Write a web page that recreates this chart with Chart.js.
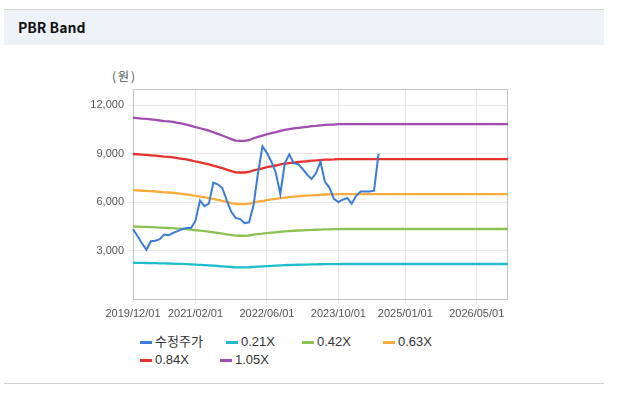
<!DOCTYPE html>
<html>
<head>
<meta charset="utf-8">
<script src="https://cdn.jsdelivr.net/npm/chart.js@4"></script>
<style>
  html, body { margin: 0; padding: 0; background: #ffffff; }
  body { width: 619px; height: 394px; position: relative; overflow: hidden; font-family: "Liberation Sans", "Noto Sans CJK KR", sans-serif; }
  #topline { position: absolute; left: 4px; top: 9px; width: 600px; height: 1px; background: #d6d6d6; }
  #header { position: absolute; left: 4px; top: 10px; width: 600px; height: 35px; background: #eef1f6; }
  #header span { position: absolute; left: 14px; top: 9px; font-family: "Noto Sans CJK KR", "Liberation Sans", sans-serif; font-weight: bold; font-size: 14px; color: #111; line-height: 17px; }
  #bottomline { position: absolute; left: 4px; top: 383px; width: 600px; height: 1px; background: #d0d0d0; }
  #unit { position: absolute; left: 112px; top: 68px; font-family: "Noto Sans CJK KR", sans-serif; font-size: 12px; color: #555; letter-spacing: 2px; line-height: 16px; }
  #wrap { position: absolute; left: 0; top: 51px; width: 619px; height: 280px; }
  .lg { position: absolute; height: 16px; line-height: 16px; font-size: 13px; color: #333; white-space: nowrap; font-family: "Liberation Sans", "Noto Sans CJK KR", sans-serif; }
  .lg i { position: absolute; left: 0; top: 7px; width: 12px; height: 3px; }
  .lg b { position: absolute; left: 15px; top: 0; font-weight: normal; }
</style>
</head>
<body>
<div id="topline"></div>
<div id="header"><span>PBR Band</span></div>
<div id="unit">(원)</div>
<div id="wrap"><canvas id="c"></canvas></div>
<div id="legend"></div>
<div id="bottomline"></div>
<script>
// ---- data (monthly, index 0 = 2019/12, index 84 = 2026/12) ----
const startYear = 2019, startMonth = 12, monthCount = 85;
const xTickLabels = ['2019/12/01', '2021/02/01', '2022/06/01', '2023/10/01', '2025/01/01', '2026/05/01'];
const yTickValues = [3000, 6000, 9000, 12000];

const seriesNames = ['수정주가', '0.21X', '0.42X', '0.63X', '0.84X', '1.05X'];

const price = [4330, 3900, 3450, 3050, 3580, 3600, 3700, 3990, 3950, 4090,
  4200, 4330, 4390, 4390, 4850, 6100, 5750, 5900, 7200, 7100,
  6870, 6100, 5400, 5020, 4950, 4700, 4750, 5800, 7800, 9450,
  9050, 8500, 7800, 6500, 8400, 8950, 8400, 8350, 8050, 7700,
  7430, 7800, 8500, 7250, 6900, 6200, 6000, 6150, 6250, 5900,
  6400, 6650, 6650, 6650, 6700, 9000];

const band021 = [2244, 2240, 2234, 2230, 2224, 2218, 2210, 2202, 2198, 2192,
  2180, 2170, 2160, 2144, 2128, 2114, 2100, 2084, 2064, 2044,
  2024, 2002, 1980, 1960, 1958, 1958, 1966, 1990, 2008, 2022,
  2040, 2054, 2066, 2082, 2094, 2104, 2112, 2120, 2126, 2132,
  2140, 2144, 2150, 2156, 2158, 2160, 2164,
  2166, 2166, 2166, 2166, 2166, 2166, 2166, 2166, 2166, 2166,
  2166, 2166, 2166, 2166, 2166, 2166, 2166, 2166, 2166, 2166,
  2166, 2166, 2166, 2166, 2166, 2166, 2166, 2166, 2166, 2166,
  2166, 2166, 2166, 2166, 2166, 2166, 2166, 2166];

const band042 = [4488, 4480, 4468, 4460, 4448, 4436, 4420, 4404, 4396, 4384,
  4360, 4340, 4320, 4288, 4256, 4228, 4200, 4168, 4128, 4088,
  4048, 4004, 3960, 3920, 3916, 3916, 3932, 3980, 4016, 4044,
  4080, 4108, 4132, 4164, 4188, 4208, 4224, 4240, 4252, 4264,
  4280, 4288, 4300, 4312, 4316, 4320, 4328,
  4332, 4332, 4332, 4332, 4332, 4332, 4332, 4332, 4332, 4332,
  4332, 4332, 4332, 4332, 4332, 4332, 4332, 4332, 4332, 4332,
  4332, 4332, 4332, 4332, 4332, 4332, 4332, 4332, 4332, 4332,
  4332, 4332, 4332, 4332, 4332, 4332, 4332, 4332];

const band063 = [6732, 6720, 6702, 6690, 6672, 6654, 6630, 6606, 6594, 6576,
  6540, 6510, 6480, 6432, 6384, 6342, 6300, 6252, 6192, 6132,
  6072, 6006, 5940, 5880, 5874, 5874, 5898, 5970, 6024, 6066,
  6120, 6162, 6198, 6246, 6282, 6312, 6336, 6360, 6378, 6396,
  6420, 6432, 6450, 6468, 6474, 6480, 6492,
  6498, 6498, 6498, 6498, 6498, 6498, 6498, 6498, 6498, 6498,
  6498, 6498, 6498, 6498, 6498, 6498, 6498, 6498, 6498, 6498,
  6498, 6498, 6498, 6498, 6498, 6498, 6498, 6498, 6498, 6498,
  6498, 6498, 6498, 6498, 6498, 6498, 6498, 6498];

const band084 = [8976, 8960, 8936, 8920, 8896, 8872, 8840, 8808, 8792, 8768,
  8720, 8680, 8640, 8576, 8512, 8456, 8400, 8336, 8256, 8176,
  8096, 8008, 7920, 7840, 7832, 7832, 7864, 7960, 8032, 8088,
  8160, 8216, 8264, 8328, 8376, 8416, 8448, 8480, 8504, 8528,
  8560, 8576, 8600, 8624, 8632, 8640, 8656,
  8664, 8664, 8664, 8664, 8664, 8664, 8664, 8664, 8664, 8664,
  8664, 8664, 8664, 8664, 8664, 8664, 8664, 8664, 8664, 8664,
  8664, 8664, 8664, 8664, 8664, 8664, 8664, 8664, 8664, 8664,
  8664, 8664, 8664, 8664, 8664, 8664, 8664, 8664];

const band105 = [11220, 11200, 11170, 11150, 11120, 11090, 11050, 11010, 10990, 10960,
  10900, 10850, 10800, 10720, 10640, 10570, 10500, 10420, 10320, 10220,
  10120, 10010, 9900, 9800, 9790, 9790, 9830, 9950, 10040, 10110,
  10200, 10270, 10330, 10410, 10470, 10520, 10560, 10600, 10630, 10660,
  10700, 10720, 10750, 10780, 10790, 10800, 10820,
  10830, 10830, 10830, 10830, 10830, 10830, 10830, 10830, 10830, 10830,
  10830, 10830, 10830, 10830, 10830, 10830, 10830, 10830, 10830, 10830,
  10830, 10830, 10830, 10830, 10830, 10830, 10830, 10830, 10830, 10830,
  10830, 10830, 10830, 10830, 10830, 10830, 10830, 10830];

// ---- styles ----
const seriesColors = ['#3a7cdb', '#1fbdcc', '#8dc153', '#fbab3c', '#e8322c', '#a04cb1'];
const seriesWidths = [2, 2.3, 2.3, 2.3, 2.3, 2.3];
const legendLayout = [[140, 334], [226, 334], [302, 334], [383, 334], [140, 352], [220, 352]];

// category labels (months)
const months = [];
for (let i = 0; i < monthCount; i++) {
  const t = (startMonth - 1) + i;
  const y = startYear + Math.floor(t / 12);
  const m = (t % 12) + 1;
  months.push(y + '/' + String(m).padStart(2, '0'));
}

const seriesData = [price, band021, band042, band063, band084, band105];
const datasets = seriesNames.map((name, i) => ({
  label: name,
  data: seriesData[i],
  borderColor: seriesColors[i],
  backgroundColor: seriesColors[i],
  borderWidth: seriesWidths[i],
  pointRadius: 0,
  tension: 0,
  fill: false,
  spanGaps: false
}));

const framePlugin = {
  id: 'frame',
  beforeDatasetsDraw(chart) {
    const a = chart.chartArea, ctx = chart.ctx;
    ctx.save();
    ctx.strokeStyle = '#c4c4c4';
    ctx.lineWidth = 1;
    ctx.strokeRect(Math.round(a.left) + 0.5, Math.round(a.top) + 0.5, Math.round(a.right - a.left) - 1, Math.round(a.bottom - a.top));
    ctx.restore();
  }
};

const chart = new Chart(document.getElementById('c'), {
  type: 'line',
  data: { labels: months, datasets },
  plugins: [framePlugin],
  options: {
    responsive: true,
    maintainAspectRatio: false,
    animation: false,
    layout: { padding: { left: 0, right: 111, top: 38, bottom: 0 } },
    plugins: { legend: { display: false }, tooltip: { enabled: false } },
    scales: {
      x: {
        type: 'category',
        offset: false,
        afterBuildTicks(scale) {
          scale.ticks = months
            .map((m, i) => ({ value: i, label: m + '/01' }))
            .filter(t => xTickLabels.includes(t.label));
        },
        afterFit(scale) { scale.height = 32; },
        grid: { color: '#e8e8e8', lineWidth: 1, tickLength: 5, drawTicks: true },
        border: { display: false },
        ticks: {
          autoSkip: false, maxRotation: 0, minRotation: 0, padding: 3,
          color: '#555', font: { family: 'Liberation Sans', size: 11 },
          callback(v) { return this.getLabelForValue(v) + '/01'; }
        }
      },
      y: {
        min: 0,
        max: 13000,
        afterBuildTicks(scale) { scale.ticks = yTickValues.map(v => ({ value: v })); },
        afterFit(scale) { scale.width = 133; },
        grid: { color: '#e8e8e8', lineWidth: 1, tickLength: 5, drawTicks: true },
        border: { display: false },
        ticks: {
          padding: 4, color: '#555', font: { family: 'Liberation Sans', size: 11 },
          callback(v) { return Number(v).toLocaleString('en-US'); }
        }
      }
    }
  }
});

// HTML legend built from chart datasets
const lg = document.getElementById('legend');
chart.data.datasets.forEach((ds, i) => {
  const d = document.createElement('div');
  d.className = 'lg';
  d.style.left = legendLayout[i][0] + 'px';
  d.style.top = legendLayout[i][1] + 'px';
  const mk = document.createElement('i');
  mk.style.background = ds.borderColor;
  const tx = document.createElement('b');
  tx.textContent = ds.label;
  d.appendChild(mk); d.appendChild(tx);
  lg.appendChild(d);
});
</script>
</body>
</html>
